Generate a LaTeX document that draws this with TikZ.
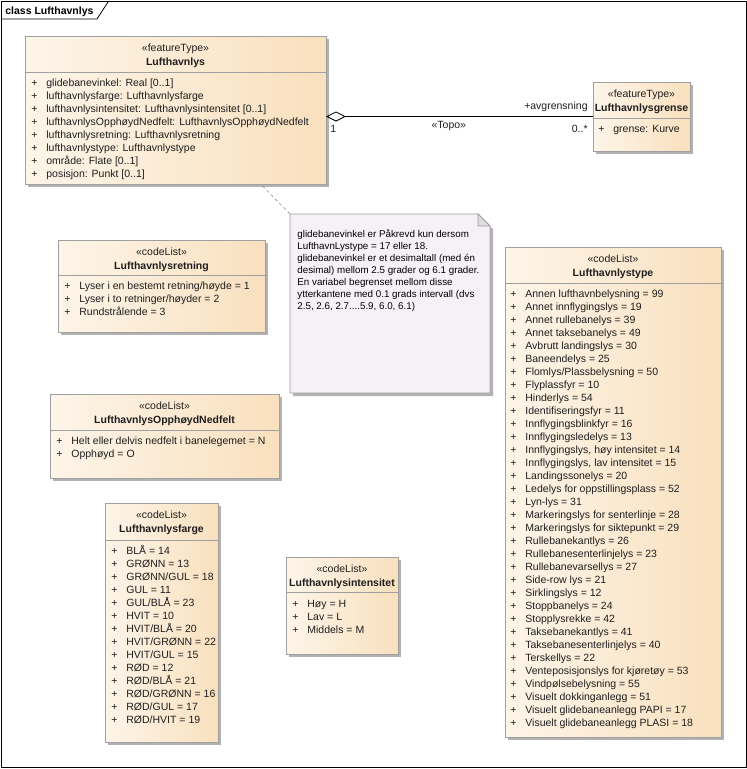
\documentclass[tikz,border=0pt]{standalone}
\usepackage{fontspec}
\setmainfont{Liberation Sans}
\usetikzlibrary{arrows.meta, positioning, shadows, calc}
\definecolor{klasselys}{RGB}{253,245,233}
\definecolor{klassemork}{RGB}{249,224,190}
\definecolor{kantgraa}{RGB}{160,160,160}
\definecolor{skygge}{RGB}{178,178,178}
\definecolor{notatfarge}{RGB}{246,241,246}
\definecolor{brettfarge}{RGB}{222,220,226}
\definecolor{tekstfarge}{RGB}{30,30,30}
\newcommand{\verdi}[1]{\makebox[15pt][l]{+}#1}

\begin{document}
\begin{tikzpicture}[
  x=1pt, y=-1pt, line width=0.8pt,
  every node/.style={font=\fontsize{10.5}{13}\selectfont, text=tekstfarge, inner sep=0pt},
  klasse/.style={draw=kantgraa, anchor=north west, outer sep=0pt,
                 left color=klasselys, right color=klassemork,
                 drop shadow={shadow xshift=3pt, shadow yshift=-3pt, fill=skygge, opacity=1}},
  hode/.style={anchor=base},
  liste/.style={anchor=base west},
  skille/.style={draw=kantgraa},
  notetekst/.style={font=\fontsize{9.8}{12}\selectfont, text=black, anchor=base west},
  assos/.style={{Diamond[open, length=20pt, width=10pt]}-, draw=black},
  notelinje/.style={draw=kantgraa, dash pattern=on 3pt off 3pt}
]
  \useasboundingbox (0,0) rectangle (747,769);

  % ramme
  \node[draw, anchor=north west, minimum width=745pt, minimum height=766pt, outer sep=0pt] (ramme) at (1,1) {};
  \draw ($(ramme.north west)+(0,18)$) -- ++(96,0) -- ++(11,-17);
  \node[anchor=base west, font=\bfseries\fontsize{10.5}{13}\selectfont, text=black] (fane) at ($(ramme.north west)+(4,13)$) {class Lufthavnlys};

  % featureType Lufthavnlys
  \node[klasse, minimum width=301pt, minimum height=148pt] (hoved) at (25,36) {};
  \node[hode] (hoved-h) at ($(hoved.north)+(0,15.5)$) {\begin{tabular}[t]{@{}c@{}}«featureType»\\[1pt]\textbf{Lufthavnlys}\end{tabular}};
  \draw[skille] ($(hoved.north west)+(0,36)$) -- ($(hoved.north east)+(0,36)$);
  \node[liste] (hoved-a) at ($(hoved.north west)+(6,50)$) {\begin{tabular}[t]{@{}l@{}}
    \verdi{glidebanevinkel: Real [0..1]}\\
    \verdi{lufthavnlysfarge: Lufthavnlysfarge}\\
    \verdi{lufthavnlysintensitet: Lufthavnlysintensitet [0..1]}\\
    \verdi{lufthavnlysOpphøydNedfelt: LufthavnlysOpphøydNedfelt}\\
    \verdi{lufthavnlysretning: Lufthavnlysretning}\\
    \verdi{lufthavnlystype: Lufthavnlystype}\\
    \verdi{område: Flate [0..1]}\\
    \verdi{posisjon: Punkt [0..1]}
  \end{tabular}};

  % featureType Lufthavnlysgrense
  \node[klasse, minimum width=97pt, minimum height=69pt] (grense) at (593,82) {};
  \node[hode] (grense-h) at ($(grense.north)+(0,15.5)$) {\begin{tabular}[t]{@{}c@{}}«featureType»\\[1pt]\textbf{Lufthavnlysgrense}\end{tabular}};
  \draw[skille] ($(grense.north west)+(0,36)$) -- ($(grense.north east)+(0,36)$);
  \node[liste] (grense-a) at ($(grense.north west)+(5,50)$) {\begin{tabular}[t]{@{}l@{}}
    \verdi{grense: Kurve}
  \end{tabular}};

  % assosiasjon
  \draw[assos] (hoved.east |- grense.west) -- node[pos=0.46, below=4pt] (topo) {«Topo»} (grense.west);
  \node[anchor=base east] (rolle) at ($(grense.north west)+(-5,27)$) {+avgrensning};
  \node[anchor=base east] (mult-b) at ($(grense.north west)+(-5,50)$) {0..*};
  \node[anchor=base west] (mult-a) at ($(hoved.north east)+(4,96)$) {1};

  % notat
  \node[anchor=north west, minimum width=200pt, minimum height=179pt, outer sep=0pt] (notat) at (290,214) {};
  \draw[draw=kantgraa, fill=notatfarge, drop shadow={shadow xshift=3pt, shadow yshift=-3pt, fill=skygge, opacity=1}]
    (notat.north west) -- ($(notat.north east)+(-12,0)$) -- ($(notat.north east)+(0,12)$)
    -- (notat.south east) -- (notat.south west) -- cycle;
  \draw[draw=kantgraa, fill=brettfarge] ($(notat.north east)+(-12,0)$) -- ($(notat.north east)+(-12,12)$) -- ($(notat.north east)+(0,12)$) -- cycle;
  \node[notetekst] (notat-t) at ($(notat.north west)+(7,23)$) {\begin{tabular}[t]{@{}l@{}}
    glidebanevinkel er Påkrevd kun dersom\\
    LufthavnLystype = 17 eller 18.\\
    glidebanevinkel er et desimaltall (med én\\
    desimal) mellom 2.5 grader og 6.1 grader.\\
    En variabel begrenset mellom disse\\
    ytterkantene med 0.1 grads intervall (dvs\\
    2.5, 2.6, 2.7....5.9, 6.0, 6.1)
  \end{tabular}};
  \draw[notelinje] ($(hoved.south)+(87,2)$) -- (notat.north west);

  % codeList Lufthavnlysretning
  \node[klasse, minimum width=207pt, minimum height=92pt] (retning) at (58,240) {};
  \node[hode] (retning-h) at ($(retning.north)+(0,15.5)$) {\begin{tabular}[t]{@{}c@{}}«codeList»\\[1pt]\textbf{Lufthavnlysretning}\end{tabular}};
  \draw[skille] ($(retning.north west)+(0,35)$) -- ($(retning.north east)+(0,35)$);
  \node[liste] (retning-a) at ($(retning.north west)+(6,49)$) {\begin{tabular}[t]{@{}l@{}}
    \verdi{Lyser i en bestemt retning/høyde = 1}\\
    \verdi{Lyser i to retninger/høyder = 2}\\
    \verdi{Rundstrålende = 3}
  \end{tabular}};

  % codeList LufthavnlysOpphøydNedfelt
  \node[klasse, minimum width=229pt, minimum height=84pt] (opphoyd) at (50,394) {};
  \node[hode] (opphoyd-h) at ($(opphoyd.north)+(0,15.5)$) {\begin{tabular}[t]{@{}c@{}}«codeList»\\[1pt]\textbf{LufthavnlysOpphøydNedfelt}\end{tabular}};
  \draw[skille] ($(opphoyd.north west)+(0,36)$) -- ($(opphoyd.north east)+(0,36)$);
  \node[liste] (opphoyd-a) at ($(opphoyd.north west)+(6,50)$) {\begin{tabular}[t]{@{}l@{}}
    \verdi{Helt eller delvis nedfelt i banelegemet = N}\\
    \verdi{Opphøyd = O}
  \end{tabular}};

  % codeList Lufthavnlysfarge
  \node[klasse, minimum width=113pt, minimum height=239pt] (farge) at (105,503) {};
  \node[hode] (farge-h) at ($(farge.north)+(0,15.5)$) {\begin{tabular}[t]{@{}c@{}}«codeList»\\[1pt]\textbf{Lufthavnlysfarge}\end{tabular}};
  \draw[skille] ($(farge.north west)+(0,37)$) -- ($(farge.north east)+(0,37)$);
  \node[liste] (farge-a) at ($(farge.north west)+(6,51)$) {\begin{tabular}[t]{@{}l@{}}
    \verdi{BLÅ = 14}\\
    \verdi{GRØNN = 13}\\
    \verdi{GRØNN/GUL = 18}\\
    \verdi{GUL = 11}\\
    \verdi{GUL/BLÅ = 23}\\
    \verdi{HVIT = 10}\\
    \verdi{HVIT/BLÅ = 20}\\
    \verdi{HVIT/GRØNN = 22}\\
    \verdi{HVIT/GUL = 15}\\
    \verdi{RØD = 12}\\
    \verdi{RØD/BLÅ = 21}\\
    \verdi{RØD/GRØNN = 16}\\
    \verdi{RØD/GUL = 17}\\
    \verdi{RØD/HVIT = 19}
  \end{tabular}};

  % codeList Lufthavnlysintensitet
  \node[klasse, minimum width=112pt, minimum height=97pt] (intensitet) at (286,557) {};
  \node[hode] (intensitet-h) at ($(intensitet.north)+(0,15.5)$) {\begin{tabular}[t]{@{}c@{}}«codeList»\\[1pt]\textbf{Lufthavnlysintensitet}\end{tabular}};
  \draw[skille] ($(intensitet.north west)+(0,35)$) -- ($(intensitet.north east)+(0,35)$);
  \node[liste] (intensitet-a) at ($(intensitet.north west)+(6,50)$) {\begin{tabular}[t]{@{}l@{}}
    \verdi{Høy = H}\\
    \verdi{Lav = L}\\
    \verdi{Middels = M}
  \end{tabular}};

  % codeList Lufthavnlystype
  \node[klasse, minimum width=216pt, minimum height=490pt] (type) at (505,247) {};
  \node[hode] (type-h) at ($(type.north)+(0,15.5)$) {\begin{tabular}[t]{@{}c@{}}«codeList»\\[1pt]\textbf{Lufthavnlystype}\end{tabular}};
  \draw[skille] ($(type.north west)+(0,36)$) -- ($(type.north east)+(0,36)$);
  \node[liste] (type-a) at ($(type.north west)+(5,50)$) {\begin{tabular}[t]{@{}l@{}}
    \verdi{Annen lufthavnbelysning = 99}\\
    \verdi{Annet innflygingslys = 19}\\
    \verdi{Annet rullebanelys = 39}\\
    \verdi{Annet taksebanelys = 49}\\
    \verdi{Avbrutt landingslys = 30}\\
    \verdi{Baneendelys = 25}\\
    \verdi{Flomlys/Plassbelysning = 50}\\
    \verdi{Flyplassfyr = 10}\\
    \verdi{Hinderlys = 54}\\
    \verdi{Identifiseringsfyr = 11}\\
    \verdi{Innflygingsblinkfyr = 16}\\
    \verdi{Innflygingsledelys = 13}\\
    \verdi{Innflygingslys, høy intensitet = 14}\\
    \verdi{Innflygingslys, lav intensitet = 15}\\
    \verdi{Landingssonelys = 20}\\
    \verdi{Ledelys for oppstillingsplass = 52}\\
    \verdi{Lyn-lys = 31}\\
    \verdi{Markeringslys for senterlinje = 28}\\
    \verdi{Markeringslys for siktepunkt = 29}\\
    \verdi{Rullebanekantlys = 26}\\
    \verdi{Rullebanesenterlinjelys = 23}\\
    \verdi{Rullebanevarsellys = 27}\\
    \verdi{Side-row lys = 21}\\
    \verdi{Sirklingslys = 12}\\
    \verdi{Stoppbanelys = 24}\\
    \verdi{Stopplysrekke = 42}\\
    \verdi{Taksebanekantlys = 41}\\
    \verdi{Taksebanesenterlinjelys = 40}\\
    \verdi{Terskellys = 22}\\
    \verdi{Venteposisjonslys for kjøretøy = 53}\\
    \verdi{Vindpølsebelysning = 55}\\
    \verdi{Visuelt dokkinganlegg = 51}\\
    \verdi{Visuelt glidebaneanlegg PAPI = 17}\\
    \verdi{Visuelt glidebaneanlegg PLASI = 18}
  \end{tabular}};
\end{tikzpicture}
\end{document}
